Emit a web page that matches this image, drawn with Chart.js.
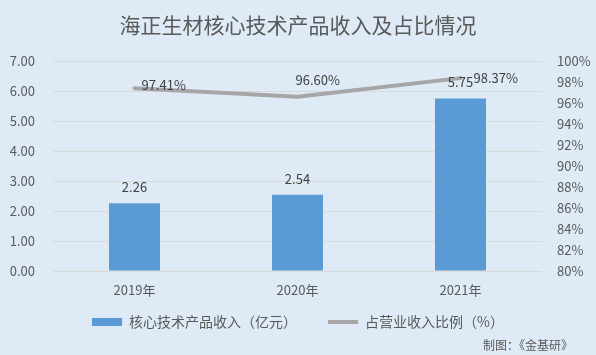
<!DOCTYPE html>
<html>
<head>
<meta charset="utf-8">
<script src="https://cdn.jsdelivr.net/npm/chart.js@4/dist/chart.umd.min.js"></script>
<style>
  html, body { margin: 0; padding: 0; background: #DEEBF7; }
  #wrap { width: 596px; height: 355px; }
</style>
</head>
<body>
<div id="wrap"><canvas id="c" width="596" height="355"></canvas></div>
<script>
const titleText = '海正生材核心技术产品收入及占比情况';
const categories = ['2019年', '2020年', '2021年'];
const revenue = [2.26, 2.54, 5.75];
const share = [97.41, 96.60, 98.37];
const revenueLabels = ['2.26', '2.54', '5.75'];
const shareLabels = ['97.41%', '96.60%', '98.37%'];
const leftTickLabels = ['0.00', '1.00', '2.00', '3.00', '4.00', '5.00', '6.00', '7.00'];
const rightTickLabels = ['80%', '82%', '84%', '86%', '88%', '90%', '92%', '94%', '96%', '98%', '100%'];
const seriesNames = ['核心技术产品收入（亿元）', '占营业收入比例（%）'];
const footerText = '制图：《金基研》';

const FONT = '"Noto Sans CJK SC", "Microsoft YaHei", sans-serif';
Chart.defaults.font.family = FONT;
Chart.defaults.color = '#595959';

// per-point label placement for the line series (style only)
const shareLabelOffsets = [{dx: 7, dy: -3}, {dx: -2, dy: -17}, {dx: 13, dy: 0}];

const bgPlugin = {
  id: 'bg',
  beforeDraw(chart) {
    const ctx = chart.ctx;
    ctx.save();
    ctx.fillStyle = '#DEEBF7';
    ctx.fillRect(0, 0, chart.width, chart.height);
    ctx.restore();
  }
};

const labelPlugin = {
  id: 'labels',
  afterDatasetsDraw(chart) {
    const ctx = chart.ctx;
    ctx.save();
    ctx.font = '13px ' + FONT;
    ctx.fillStyle = '#404040';
    ctx.textBaseline = 'middle';
    const barMeta = chart.getDatasetMeta(0);
    barMeta.data.forEach((el, i) => {
      ctx.textAlign = 'center';
      ctx.fillText(revenueLabels[i], el.x, el.y - 16);
    });
    const lineMeta = chart.getDatasetMeta(1);
    lineMeta.data.forEach((el, i) => {
      const o = shareLabelOffsets[i];
      ctx.textAlign = 'left';
      ctx.fillText(shareLabels[i], el.x + o.dx, el.y + o.dy);
    });
    ctx.restore();
  }
};

const footerPlugin = {
  id: 'footer',
  afterDraw(chart) {
    const ctx = chart.ctx;
    ctx.save();
    ctx.font = '12px ' + FONT;
    ctx.fillStyle = '#595959';
    ctx.textAlign = 'right';
    ctx.textBaseline = 'middle';
    ctx.fillText(footerText, 573, 345);
    ctx.restore();
  }
};

new Chart(document.getElementById('c'), {
  type: 'bar',
  data: {
    labels: categories,
    datasets: [
      {
        type: 'bar',
        label: seriesNames[0] + '\u3000\u3000',
        data: revenue,
        backgroundColor: '#5B9BD5',
        borderWidth: 0,
        barPercentage: 0.313,
        categoryPercentage: 1.0,
        yAxisID: 'y',
        pointStyle: 'rect',
        order: 2
      },
      {
        type: 'line',
        label: seriesNames[1],
        data: share,
        borderColor: '#A6A6A6',
        backgroundColor: '#A6A6A6',
        borderWidth: 4,
        borderCapStyle: 'round',
        borderJoinStyle: 'round',
        pointRadius: 0,
        pointHoverRadius: 0,
        pointStyle: 'line',
        tension: 0,
        yAxisID: 'y1',
        order: 1
      }
    ]
  },
  options: {
    responsive: false,
    animation: false,
    devicePixelRatio: 1,
    layout: { padding: { left: 0, right: 0, top: 0, bottom: 16 } },
    plugins: {
      title: {
        display: true,
        text: titleText,
        color: '#595959',
        font: { size: 21, weight: 'normal', family: FONT, lineHeight: 1.2 },
        padding: { top: 12, bottom: 23.8 }
      },
      legend: {
        display: true,
        position: 'bottom',
        labels: {
          usePointStyle: true,
          pointStyleWidth: 30,
          boxHeight: 8,
          padding: 10,
          color: '#595959',
          font: { size: 14, family: FONT },
          sort: (a, b) => a.datasetIndex - b.datasetIndex
        }
      },
      tooltip: { enabled: false }
    },
    scales: {
      x: {
        grid: { display: false, drawTicks: false },
        border: { display: false },
        ticks: { padding: 11, color: '#595959', font: { size: 13 } },
        afterFit(scale) { scale.height = 34; }
      },
      y: {
        position: 'left',
        min: 0,
        max: 7,
        ticks: {
          stepSize: 1,
          padding: 18,
          color: '#595959',
          font: { size: 13 },
          callback: (v, i) => leftTickLabels[i]
        },
        grid: { color: '#D9D9D9', lineWidth: 1, drawTicks: false },
        border: { display: false },
        afterFit(scale) { scale.width = 53; }
      },
      y1: {
        position: 'right',
        min: 80,
        max: 100,
        ticks: {
          stepSize: 2,
          padding: 15,
          color: '#595959',
          font: { size: 13 },
          callback: (v, i) => rightTickLabels[i]
        },
        grid: { display: false, drawTicks: false },
        border: { display: false },
        afterFit(scale) { scale.width = 54; }
      }
    }
  },
  plugins: [bgPlugin, labelPlugin, footerPlugin]
});
</script>
</body>
</html>
